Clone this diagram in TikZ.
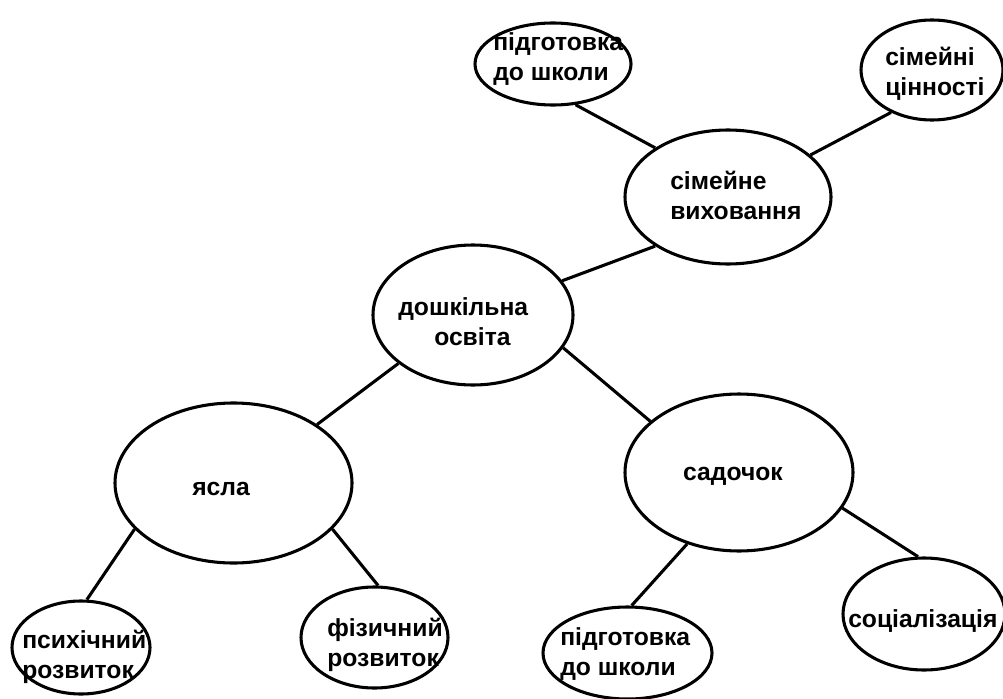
\documentclass[tikz,border=0pt]{standalone}
\usepackage{fontspec}
\setmainfont{Liberation Sans}[BoldFont={Liberation Sans Bold}]
\usetikzlibrary{shapes.geometric}
\begin{document}
\begin{tikzpicture}[x=0.75pt,y=-0.75pt,
  bub/.style={draw=black,line width=2.3pt,ellipse,inner sep=0pt},
  sz/.style 2 args={minimum width=#1*0.75pt,minimum height=#2*0.75pt},
  lbl/.style={font=\fontsize{18.5}{22.5}\selectfont\bfseries,align=left,inner sep=0pt},
  link/.style={draw=black,line width=2.3pt}]
\useasboundingbox (0,0) rectangle (1003,699);
% ellipses
\node[bub,sz={156}{82}] (pt1) at (553,64) {};
\node[bub,sz={142}{100}] (sc) at (932,70) {};
\node[bub,sz={206}{134}] (sv) at (728,197) {};
\node[bub,sz={200}{140}] (do) at (473,315) {};
\node[bub,sz={237}{160}] (ya) at (233.5,483) {};
\node[bub,sz={228}{157}] (sa) at (739,472.5) {};
\node[bub,sz={138}{93}] (ps) at (81,647.5) {};
\node[bub,sz={147}{101}] (fi) at (374.5,637.5) {};
\node[bub,sz={169}{92}] (pt2) at (627.5,653) {};
\node[bub,sz={162}{112}] (so) at (924,614) {};
% labels (base = baseline of last line)
\node[lbl,anchor=base west] (tpt1) at (493,81) {підготовка\\до школи};
\node[lbl,anchor=base west] (tsc) at (885,95) {сімейні\\цінності};
\node[lbl,anchor=base west] (tsv) at (670,219) {сімейне\\виховання};
\node[lbl,anchor=base west] (tdo) at (398,345) {дошкільна\\\hspace*{27pt}освіта};
\node[lbl,anchor=base] (tya) at (221,495) {ясла};
\node[lbl,anchor=base] (tsa) at (733,480) {садочок};
\node[lbl,anchor=base west] (tps) at (22,678) {психічний\\розвиток};
\node[lbl,anchor=base west] (tfi) at (327,666) {фізичний\\розвиток};
\node[lbl,anchor=base west] (tpt2) at (560,675) {підготовка\\до школи};
\node[lbl,anchor=base west] (tso) at (848,627) {соціалізація};
% connectors
\draw[link] (sv.146) -- (pt1.299);
\draw[link] (sv.27) -- (sc.226);
\draw[link] (sv.214) -- (do.21);
\draw[link] (do.213) -- (ya.35);
\draw[link] (do.340) -- (sa.150);
\draw[link] (ya.205) -- (ps.83);
\draw[link] (ya.335) -- (fi.86);
\draw[link] (sa.234) -- (pt2.85);
\draw[link] (sa.341) -- (so.96);
\end{tikzpicture}
\end{document}
